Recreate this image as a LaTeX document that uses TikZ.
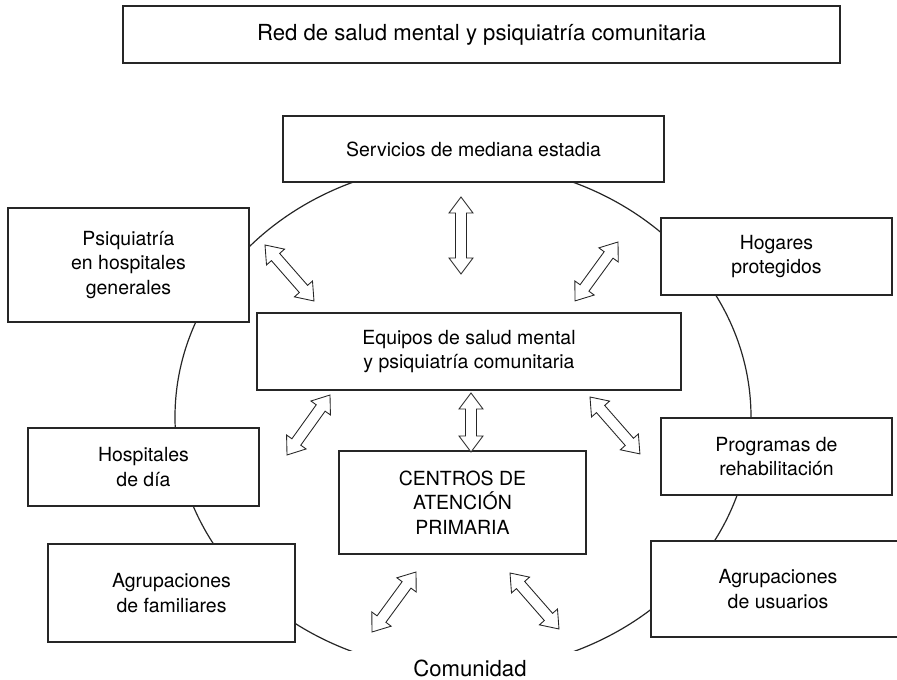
\documentclass[tikz,border=0pt]{standalone}
\usepackage{fontspec}
\setmainfont{TeX Gyre Heros}
\usetikzlibrary{positioning,calc}

\newcommand{\dblarrow}[2]{%
  \draw[hollow] let \p1=($(#2)-(#1)$), \n1={atan2(\y1,\x1)}, \n2={veclen(\x1,\y1)} in
    [shift={(#1)}, rotate=\n1]
    (0pt,0pt) -- (12pt,9pt) -- (12pt,4.1pt) -- ({\n2-12pt},4.1pt) -- ({\n2-12pt},9pt)
    -- ({\n2+0pt},0pt) -- ({\n2-12pt},-9pt) -- ({\n2-12pt},-4.1pt) -- (12pt,-4.1pt)
    -- (12pt,-9pt) -- cycle;
}

\begin{document}
\begin{tikzpicture}[x=0.75pt, y=-0.75pt,
    box/.style = {draw=black!85, line width=0.9pt, fill=white, outer sep=0pt, align=center,
                  font=\fontsize{14.6}{18.5}\selectfont},
    big/.style = {font=\fontsize{16.6}{20}\selectfont},
    hollow/.style = {draw=black!85, line width=0.65pt, fill=white, line join=miter},
    ring/.style = {draw=black!85, line width=0.9pt}]
	\useasboundingbox (0,0) rectangle (897,680);
	% the community ring, open at the bottom
	\begin{scope}
		\clip (0,0) rectangle (897,651);
		\draw[ring] (463,417) ellipse [x radius=216pt, y radius=190.5pt];
	\end{scope}
	% central column
	\node[box, minimum width=318pt, minimum height=57.75pt] (equip) at (469,351.5) {Equipos de salud mental\\y psiquiatría comunitaria};
	\node[box, minimum width=285.75pt, minimum height=49.5pt] (serv) [above=98.25pt of equip, xshift=3.4pt] {Servicios de mediana estadia};
	\node[box, big, minimum width=537.75pt, minimum height=42.75pt] (red) [above=39.75pt of serv, xshift=6pt] {Red de salud mental y psiquiatría comunitaria};
	\node[box, minimum width=185.25pt, minimum height=77.25pt] (cent) [below=45.75pt of equip, xshift=-4.9pt] {CENTROS DE\\ATENCIÓN\\PRIMARIA};
	% boxes round the ring
	\node[box, minimum width=180.75pt, minimum height=85.5pt] (psiq) at (128.5,265) {Psiquiatría\\en hospitales\\generales};
	\node[box, minimum width=173.25pt, minimum height=57.75pt] (hog) at (776.5,256.5) {Hogares\\protegidos};
	\node[box, minimum width=173.25pt, minimum height=58.5pt] (hosp) at (143.5,467) {Hospitales\\de día};
	\node[box, minimum width=173.25pt, minimum height=57.75pt] (prog) at (776.5,456.5) {Programas de\\rehabilitación};
	\node[box, minimum width=185.25pt, minimum height=73.5pt] (agfam) at (171.5,593) {Agrupaciones\\de familiares};
	\node[box, minimum width=190.5pt, minimum height=72pt] (agusu) at (778,589) {Agrupaciones\\de usuarios};
	\node[big] (com) at (470,668) {Comunidad};
	% arrow ends
	\coordinate (se1) at (461,197); \coordinate (se2) at (461,274);
	\coordinate (pe1) at (265,245); \coordinate (pe2) at (314,301);
	\coordinate (he1) at (618,242); \coordinate (he2) at (575,301);
	\coordinate (eh1) at (330,395); \coordinate (eh2) at (287,455);
	\coordinate (ec1) at (471,393); \coordinate (ec2) at (471,452);
	\coordinate (ep1) at (590,397); \coordinate (ep2) at (640,454);
	\coordinate (cf1) at (416,572); \coordinate (cf2) at (372,632);
	\coordinate (cu1) at (510,573); \coordinate (cu2) at (559,629);
	\dblarrow{se1}{se2}
	\dblarrow{pe1}{pe2}
	\dblarrow{he1}{he2}
	\dblarrow{eh1}{eh2}
	\dblarrow{ec1}{ec2}
	\dblarrow{ep1}{ep2}
	\dblarrow{cf1}{cf2}
	\dblarrow{cu1}{cu2}
\end{tikzpicture}
\end{document}
